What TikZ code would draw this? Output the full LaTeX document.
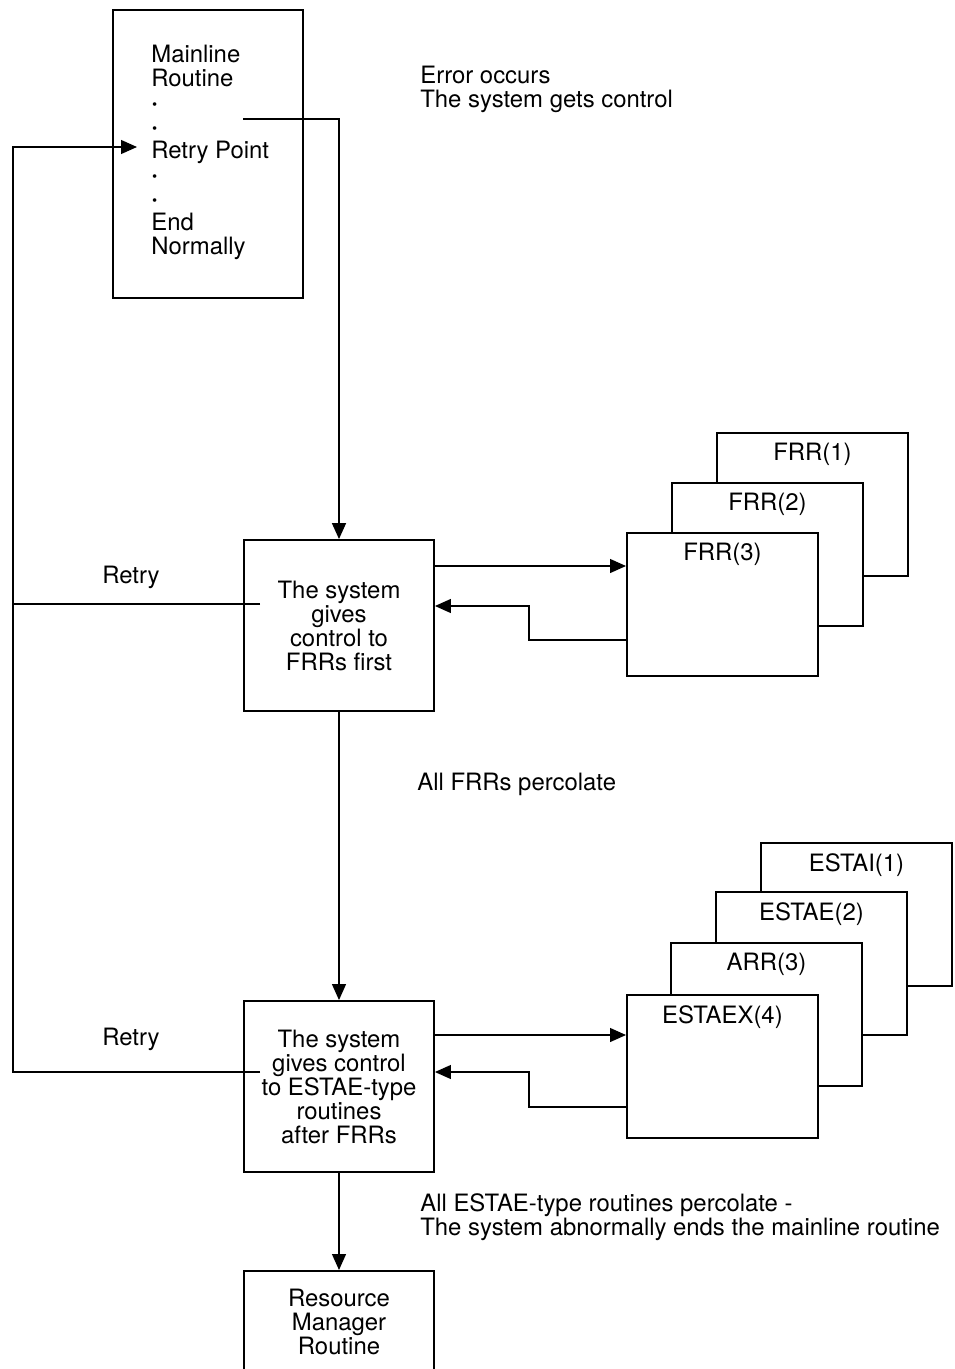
\documentclass[tikz,border=0pt]{standalone}
\usepackage{fontspec}
\setmainfont{TeX Gyre Heros}
\usetikzlibrary{positioning}
\usetikzlibrary{calc}
\usetikzlibrary{arrows.meta}

\newcommand{\mdot}{\textbf{·}}

\begin{document}
\begin{tikzpicture}[x=0.02cm,y=-0.02cm,
    every node/.style={font=\fontsize{13.6pt}{13.66pt}\selectfont, inner sep=0pt},
    box/.style={draw, line width=1.1pt, minimum width=3.8cm, minimum height=3.42cm, align=center},
    card/.style={draw, line width=1.1pt, fill=white, anchor=north west, minimum width=3.82cm, minimum height=2.86cm},
    flow/.style={line width=0.7pt},
    arr/.style={flow, -{Triangle[length=0.32cm,width=0.28cm]}},
    note/.style={align=left, anchor=north west}]

    \useasboundingbox (0,0) rectangle (955,1369);

    % mainline routine
    \node[draw, line width=1.1pt, anchor=north west, minimum width=3.8cm, minimum height=5.76cm] (main) at (112,9) {};
    \node[note] (maintext) at (151,45) {Mainline\\Routine\\\mdot\\\mdot\\Retry Point\\\mdot\\\mdot\\End\\Normally};
    \coordinate (errpt) at (243,119);
    \coordinate (retrypt) at (137,147);

    % the system boxes
    \node[box] (sys1) at (339,625.5) {The system\\gives\\control to\\FRRs first};
    \node[box] (sys2) at (339,1086.5) {The system\\gives control\\to ESTAE-type\\routines\\after FRRs};
    \node[box, anchor=north, minimum height=2.04cm] (rm) at (339,1270) {Resource\\Manager\\Routine};

    % recovery routines, back to front
    \foreach \i/\x/\y in {1/716/432, 2/671/482, 3/626/532} {
        \node[card] (frr\i) at (\x,\y) {};
        \node[below=0.22cm of frr\i.north] (lfrr\i) {FRR(\i)};
    }
    \foreach \i/\x/\y/\t in {1/760/842/ESTAI, 2/715/891/ESTAE, 3/670/942/ARR, 4/626/994/ESTAEX} {
        \node[card] (esta\i) at (\x,\y) {};
        \node[below=0.22cm of esta\i.north] (lesta\i) {\t(\i)};
    }

    % texts
    \node[note] (err) at (420,66) {Error occurs\\The system gets control};
    \node[anchor=base west] (perc1) at (417,790) {All FRRs percolate};
    \node[note] (perc2) at (420,1193) {All ESTAE-type routines percolate -\\The system abnormally ends the mainline routine};
    \node[anchor=base] (retry1) at (131,583) {Retry};
    \node[anchor=base] (retry2) at (131,1045) {Retry};

    % connectors
    \draw[arr, line width=0.9pt] (errpt) -| (sys1.north);
    \draw[arr] (sys1.south) -- (sys2.north);
    \draw[arr] (sys2.south) -- (rm.north);

    \draw[arr] (sys1.east |- 0,566) -- (frr3.west |- 0,566);
    \draw[arr] (frr3.west |- 0,640) -| (529,606) -- (sys1.east |- 0,606);
    \draw[arr] (sys2.east |- 0,1035) -- (esta4.west |- 0,1035);
    \draw[arr] (esta4.west |- 0,1107) -| (529,1072) -- (sys2.east |- 0,1072);

    % retry paths
    \coordinate (rtop) at (13,147);
    \coordinate (rin1) at (260,604);
    \coordinate (rin2) at (260,1072);
    \draw[arr] (rin2) -| (rtop) -- (retrypt);
    \draw[flow] (rin1) -- (rin1 -| rtop);
\end{tikzpicture}
\end{document}
